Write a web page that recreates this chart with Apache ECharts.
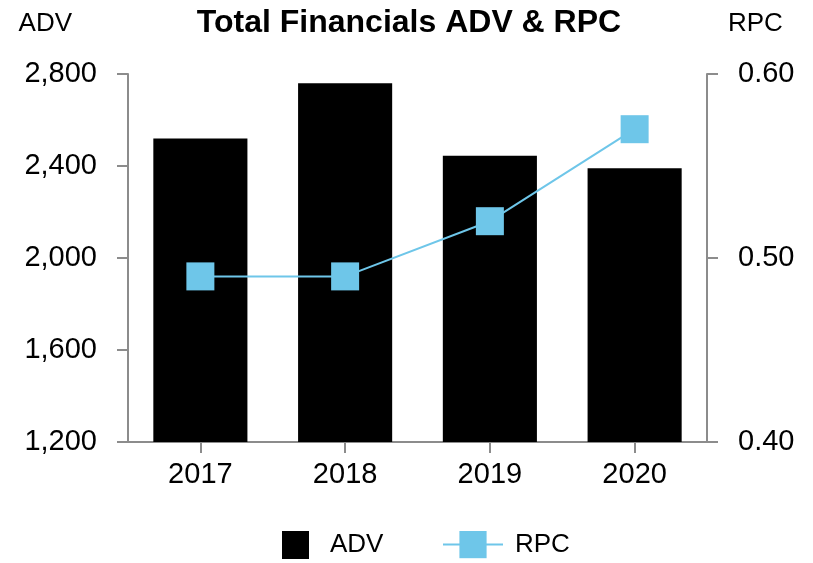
<!DOCTYPE html>
<html>
<head>
<meta charset="utf-8">
<script src="https://cdn.jsdelivr.net/npm/echarts@6/dist/echarts.min.js"></script>
<style>html,body{margin:0;padding:0;background:#fff;}#c{width:813px;height:563px;}</style>
</head>
<body>
<div id="c"></div>
<script>
const categories = ['2017', '2018', '2019', '2020'];
const advValues = [2520, 2760, 2445, 2390];
const rpcValues = [0.49, 0.49, 0.52, 0.57];
const advTicks = { min: 1200, max: 2800, interval: 400 };
const rpcTicks = { min: 0.4, max: 0.6, interval: 0.1 };

const FONT = 'Liberation Sans, Arial, sans-serif';
const AXIS_COLOR = '#8c8c8c';
const BLUE = '#6ec6e9';

const chart = echarts.init(document.getElementById('c'), null, { renderer: 'canvas' });
chart.setOption({
  animation: false,
  backgroundColor: '#ffffff',
  textStyle: { fontFamily: FONT },
  title: {
    text: 'Total Financials ADV & RPC',
    left: 409,
    textAlign: 'center',
    top: 7,
    padding: 0,
    textStyle: { fontFamily: FONT, fontWeight: 'bold', fontSize: 32, color: '#000', lineHeight: 32 }
  },
  legend: [
    {
      data: [{ name: 'ADV', icon: 'rect' }],
      left: 282,
      top: 531,
      padding: 0,
      itemWidth: 27,
      itemHeight: 28,
      textStyle: { fontFamily: FONT, fontSize: 26, color: '#000', padding: [0, 0, 0, 16] }
    },
    {
      data: ['RPC'],
      left: 442,
      top: 531,
      padding: 0,
      itemWidth: 60,
      itemHeight: 34,
      textStyle: { fontFamily: FONT, fontSize: 26, color: '#000', padding: [0, 0, 0, 7] }
    }
  ],
  grid: { left: 128, right: 106, top: 74, bottom: 121, containLabel: false },
  xAxis: {
    type: 'category',
    data: categories,
    axisLine: { lineStyle: { color: AXIS_COLOR, width: 2 } },
    axisTick: { show: true, alignWithLabel: true, length: 11, lineStyle: { color: AXIS_COLOR, width: 2 } },
    axisLabel: { fontFamily: FONT, fontSize: 29, color: '#000', margin: 18 }
  },
  yAxis: [
    {
      type: 'value',
      name: 'ADV',
      nameLocation: 'end',
      nameGap: 50,
      nameTextStyle: { fontFamily: FONT, fontSize: 26, color: '#000', align: 'right', verticalAlign: 'middle', padding: [0, 56, 0, 0] },
      min: advTicks.min, max: advTicks.max, interval: advTicks.interval,
      axisLine: { show: true, lineStyle: { color: AXIS_COLOR, width: 2 } },
      axisTick: { show: true, length: 11, lineStyle: { color: AXIS_COLOR, width: 2 } },
      splitLine: { show: false },
      axisLabel: {
        fontFamily: FONT, fontSize: 29, color: '#000', margin: 31,
        formatter: v => v.toLocaleString('en-US')
      }
    },
    {
      type: 'value',
      name: 'RPC',
      nameLocation: 'end',
      nameGap: 50,
      nameTextStyle: { fontFamily: FONT, fontSize: 26, color: '#000', align: 'left', verticalAlign: 'middle', padding: [0, 0, 0, 21] },
      min: rpcTicks.min, max: rpcTicks.max, interval: rpcTicks.interval,
      axisLine: { show: true, lineStyle: { color: AXIS_COLOR, width: 2 } },
      axisTick: { show: true, length: 11, lineStyle: { color: AXIS_COLOR, width: 2 } },
      splitLine: { show: false },
      axisLabel: {
        fontFamily: FONT, fontSize: 29, color: '#000', margin: 31,
        formatter: v => v.toFixed(2)
      }
    }
  ],
  series: [
    {
      name: 'ADV',
      type: 'bar',
      data: advValues,
      yAxisIndex: 0,
      barWidth: '65%',
      itemStyle: { color: '#000000' }
    },
    {
      name: 'RPC',
      type: 'line',
      data: rpcValues,
      yAxisIndex: 1,
      symbol: 'rect',
      symbolSize: 28,
      lineStyle: { color: BLUE, width: 2 },
      itemStyle: { color: BLUE }
    }
  ]
});
</script>
</body>
</html>
